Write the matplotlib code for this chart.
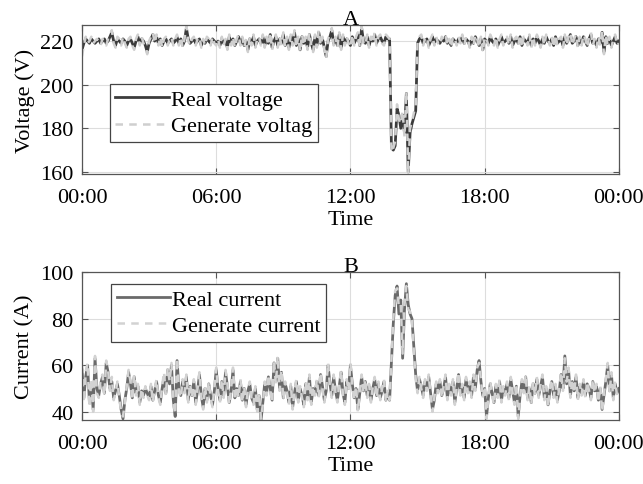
import numpy as np
import matplotlib
matplotlib.use("Agg")
import matplotlib.pyplot as plt

# ---- data (5-minute samples, 00:00 .. 24:00) ----
tick_hours = [0, 6, 12, 18, 24]
tick_labels = ["00:00", "06:00", "12:00", "18:00", "00:00"]

real_voltage = [
    216, 219, 221, 220, 219, 221, 220, 219, 220, 221, 219, 220,
    221, 219, 220, 222, 224, 220, 218, 221, 220, 219, 221, 220,
    218, 220, 221, 219, 217, 220, 222, 219, 221, 220, 218, 215,
    219, 221, 223, 220, 222, 219, 221, 218, 220, 221, 219, 220,
    221, 219, 220, 222, 219, 221, 218, 220, 226, 221, 219, 220,
    221, 219, 220, 221, 218, 220, 219, 221, 220, 219, 221, 220,
    219, 220, 218, 221, 219, 220, 217, 222, 219, 221, 218, 220,
    222, 219, 221, 218, 220, 216, 221, 219, 222, 218, 220, 221,
    219, 222, 218, 221, 219, 223, 217, 220, 222, 218, 221, 219,
    223, 218, 221, 217, 222, 219, 224, 218, 221, 216, 222, 219,
    221, 217, 223, 219, 216, 222, 218, 224, 219, 221, 217, 213,
    220, 222, 225, 219, 221, 218, 223, 217, 222, 219, 221, 220,
    218, 222, 219, 221, 223, 218, 226, 220, 219, 222, 218, 221,
    220, 223, 219, 221, 222, 220, 219, 222, 221, 221, 171, 170,
    172, 189, 186, 180, 186, 178, 196, 160, 178, 182, 185, 188,
    219, 221, 222, 219, 220, 221, 218, 220, 222, 219, 221, 220,
    219, 221, 220, 222, 219, 220, 218, 221, 220, 219, 221, 220,
    222, 219, 221, 220, 218, 221, 219, 222, 220, 218, 221, 216,
    221, 220, 219, 222, 220, 219, 221, 218, 220, 222, 219, 220,
    221, 219, 222, 218, 220, 221, 219, 222, 218, 221, 220, 219,
    222, 218, 221, 219, 222, 220, 218, 221, 219, 222, 220, 219,
    221, 218, 222, 219, 220, 221, 218, 222, 219, 221, 223, 219,
    220, 222, 218, 221, 219, 222, 220, 218, 221, 223, 219, 220,
    218, 221, 219, 224, 215, 222, 219, 221, 218, 220, 222, 219,
    220,
]

generated_voltage = [
    213, 218, 222, 219, 220, 222, 219, 220, 221, 220, 218, 221,
    220, 218, 221, 223, 225, 219, 217, 222, 221, 218, 222, 219,
    217, 221, 222, 218, 216, 221, 223, 218, 222, 219, 217, 214,
    220, 222, 224, 219, 223, 218, 222, 217, 221, 222, 218, 221,
    222, 218, 221, 223, 218, 222, 217, 221, 227, 220, 218, 221,
    222, 218, 221, 222, 217, 221, 218, 222, 221, 218, 222, 219,
    218, 221, 217, 222, 218, 221, 216, 223, 218, 222, 217, 221,
    223, 218, 222, 217, 221, 215, 222, 218, 223, 217, 221, 222,
    218, 223, 217, 222, 218, 224, 216, 221, 223, 217, 222, 218,
    224, 217, 222, 216, 223, 218, 225, 217, 222, 215, 223, 218,
    222, 216, 224, 218, 215, 223, 217, 225, 218, 222, 216, 212,
    221, 223, 226, 218, 222, 217, 224, 216, 223, 218, 222, 219,
    217, 223, 218, 222, 224, 217, 227, 219, 218, 223, 217, 222,
    219, 224, 218, 222, 223, 219, 218, 223, 222, 221, 169, 171,
    174, 191, 184, 182, 188, 176, 197, 159, 180, 183, 187, 190,
    220, 222, 223, 218, 221, 222, 217, 221, 223, 218, 222, 219,
    218, 222, 221, 223, 218, 221, 217, 222, 221, 218, 222, 219,
    223, 218, 222, 221, 217, 222, 218, 223, 221, 217, 222, 215,
    222, 221, 218, 223, 221, 218, 222, 217, 221, 223, 218, 221,
    222, 218, 223, 217, 221, 222, 218, 223, 217, 222, 221, 218,
    223, 217, 222, 218, 223, 221, 217, 222, 218, 223, 221, 218,
    222, 217, 223, 218, 221, 222, 217, 223, 218, 222, 224, 218,
    221, 223, 217, 222, 218, 223, 221, 217, 222, 224, 218, 221,
    217, 222, 218, 225, 214, 223, 218, 222, 217, 221, 223, 218,
    219,
]

real_current = [
    58, 46, 55, 60, 44, 52, 41, 63, 50, 47, 52, 55,
    48, 61, 57, 50, 53, 46, 49, 52, 47, 41, 37, 45,
    50, 57, 52, 46, 55, 48, 51, 44, 49, 47, 50, 48,
    46, 51, 45, 49, 53, 47, 44, 50, 55, 48, 58, 52,
    60, 45, 38, 62, 50, 47, 53, 49, 55, 45, 51, 47,
    53, 44, 49, 56, 47, 42, 50, 45, 52, 47, 43, 49,
    58, 50, 45, 53, 47, 57, 51, 44, 49, 58, 46, 50,
    47, 53, 45, 50, 43, 49, 52, 46, 44, 50, 41, 47,
    36, 44, 52, 48, 55, 50, 45, 61, 53, 63, 50, 57,
    46, 52, 49, 44, 51, 42, 48, 53, 45, 50, 47, 43,
    52, 46, 55, 44, 50, 48, 53, 47, 56, 51, 45, 49,
    60, 52, 47, 55, 49, 45, 51, 57, 48, 44, 53, 50,
    60, 52, 46, 50, 41, 48, 55, 49, 53, 47, 51, 45,
    50, 54, 47, 52, 46, 49, 53, 45, 48, 45, 62, 78,
    90, 94, 82, 88, 63, 84, 95, 86, 82, 80, 68, 56,
    49, 54, 51, 47, 53, 50, 55, 48, 41, 45, 52, 49,
    53, 47, 50, 55, 46, 51, 48, 53, 44, 50, 56, 48,
    51, 46, 54, 49, 52, 47, 55, 50, 58, 62, 53, 47,
    50, 38, 46, 52, 48, 44, 51, 47, 53, 45, 50, 48,
    52, 46, 54, 49, 44, 51, 38, 47, 53, 49, 55, 46,
    50, 44, 52, 48, 54, 47, 51, 55, 46, 50, 43, 49,
    53, 47, 51, 45, 49, 56, 50, 64, 52, 58, 47, 53,
    49, 55, 46, 51, 48, 53, 47, 52, 50, 46, 53, 49,
    51, 45, 50, 41, 47, 53, 60, 49, 56, 46, 52, 48,
    50,
]

generated_current = [
    60, 44, 57, 61, 42, 54, 40, 64, 48, 46, 54, 56,
    47, 62, 58, 49, 55, 45, 48, 53, 46, 40, 38, 44,
    51, 58, 53, 45, 56, 47, 52, 43, 50, 46, 51, 47,
    45, 52, 44, 50, 54, 46, 43, 51, 57, 47, 59, 53,
    61, 44, 39, 63, 49, 46, 54, 48, 56, 44, 52, 46,
    54, 43, 50, 57, 46, 41, 51, 44, 53, 46, 42, 50,
    59, 49, 44, 54, 46, 58, 52, 43, 50, 59, 45, 51,
    46, 54, 44, 51, 42, 50, 53, 45, 43, 51, 40, 48,
    37, 43, 53, 47, 56, 49, 44, 62, 52, 64, 49, 58,
    45, 53, 48, 43, 52, 41, 49, 54, 44, 51, 46, 42,
    53, 45, 56, 43, 51, 47, 54, 46, 57, 50, 44, 50,
    61, 51, 46, 56, 48, 44, 52, 58, 47, 43, 54, 49,
    61, 51, 45, 51, 40, 49, 56, 48, 54, 46, 52, 44,
    51, 55, 46, 53, 45, 50, 54, 44, 49, 45, 63, 80,
    92, 93, 85, 86, 65, 86, 94, 84, 83, 79, 66, 54,
    48, 55, 50, 46, 54, 49, 56, 47, 40, 46, 53, 48,
    54, 46, 51, 56, 45, 52, 47, 54, 43, 51, 57, 47,
    52, 45, 55, 48, 53, 46, 56, 49, 59, 61, 54, 46,
    51, 37, 47, 53, 47, 43, 52, 46, 54, 44, 51, 47,
    53, 45, 55, 48, 43, 52, 37, 46, 54, 48, 56, 45,
    51, 43, 53, 47, 55, 46, 52, 56, 45, 51, 42, 50,
    54, 46, 52, 44, 50, 57, 49, 63, 53, 59, 46, 54,
    48, 56, 45, 52, 47, 54, 46, 53, 49, 45, 54, 48,
    52, 44, 51, 40, 48, 54, 61, 48, 57, 45, 53, 47,
    49,
]

hours = np.arange(len(real_voltage)) / 12.0

# ---- style ----
plt.rcParams['font.family'] = ['Liberation Serif', 'DejaVu Serif']
plt.rcParams['font.size'] = 16

fig = plt.figure(figsize=(6.43, 4.85), dpi=100)
ax1 = fig.add_axes([0.1275, 0.639, 0.835, 0.307])
ax2 = fig.add_axes([0.1275, 0.132, 0.835, 0.305])

spine_col = '#555555'


def style(ax, ylim, yticks):
    ax.set_xlim(0, 24)
    ax.set_ylim(*ylim)
    ax.set_xticks(tick_hours)
    ax.set_xticklabels(tick_labels)
    ax.set_yticks(yticks)
    ax.grid(True, color='#dddddd', linewidth=0.8)
    ax.set_axisbelow(True)
    ax.tick_params(direction='in', length=4, width=0.8, color=spine_col,
                   top=True, right=True, labelsize=16, pad=6)
    ax.tick_params(axis='x', pad=10)
    for s in ax.spines.values():
        s.set_color(spine_col)
        s.set_linewidth(0.9)
    ax.set_xlabel('Time', fontsize=16, labelpad=2)


legend_kw = dict(loc='upper left', borderaxespad=0, fancybox=False,
                 framealpha=1, edgecolor='#444444', handlelength=2.4,
                 handletextpad=0.1, labelspacing=0.25, borderpad=0.25,
                 fontsize=16)

ax1.plot(hours, real_voltage, color='#3c3c3c', lw=2.0, label='Real voltage')
ax1.plot(hours, generated_voltage, color='#cfcfcf', lw=1.8,
         ls=(0, (3, 2.5)), label='Generate voltag')
style(ax1, (159, 227.3), [160, 180, 200, 220])
ax1.set_ylabel('Voltage (V)', fontsize=16, labelpad=4)
ax1.set_title('A', fontsize=16, pad=1)
leg1 = ax1.legend(bbox_to_anchor=(0.052, 0.604), **legend_kw)
leg1.get_frame().set_linewidth(0.9)

ax2.plot(hours, real_current, color='#6a6a6a', lw=2.0, label='Real current')
ax2.plot(hours, generated_current, color='#d2d2d2', lw=1.8,
         ls=(0, (3, 2.5)), label='Generate current')
style(ax2, (36.5, 100), [40, 60, 80, 100])
ax2.set_ylabel('Current (A)', fontsize=16, labelpad=4)
ax2.set_title('B', fontsize=16, pad=1)
leg2 = ax2.legend(bbox_to_anchor=(0.054, 0.919), **legend_kw)
leg2.get_frame().set_linewidth(0.9)

fig.savefig('out.png', dpi=100)
